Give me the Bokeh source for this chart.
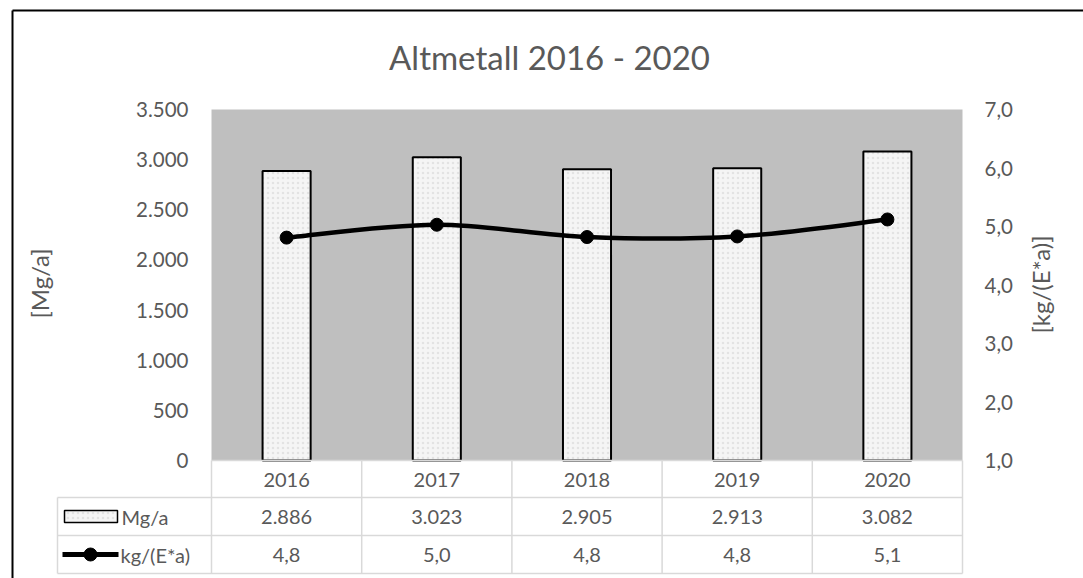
import math
from bokeh.plotting import figure
from bokeh.models import Range1d, LinearAxis, FixedTicker
from bokeh.core.properties import value
from bokeh.embed import file_html
from bokeh.resources import INLINE

# ---------------- data ----------------
YEARS = ["2016", "2017", "2018", "2019", "2020"]
MGA = [2886, 3023, 2905, 2913, 3082]          # Mg/a (bars, left axis)
KG = [4.81, 5.03, 4.82, 4.83, 5.12]           # kg/(E*a) (line, right axis)
LEFT_TICKS = [0, 500, 1000, 1500, 2000, 2500, 3000, 3500]
RIGHT_TICKS = [1, 2, 3, 4, 5, 6, 7]
TITLE = "Altmetall 2016 - 2020"
BAR_NAME = "Mg/a"
LINE_NAME = "kg/(E*a)"
LEFT_TITLE = "[Mg/a]"
RIGHT_TITLE = "[kg/(E*a)]"


def de_int(v):
    return f"{v:,}".replace(",", ".")


def de_dec(v):
    return f"{v:.1f}".replace(".", ",")


# ---------------- layout (pixel geometry) ----------------
W, H = 1083, 578
PL, PR, PT, PB = 211, 962, 109, 460          # plot area
YMAX = LEFT_TICKS[-1]
RMIN, RMAX = RIGHT_TICKS[0], RIGHT_TICKS[-1]
N = len(YEARS)
FONT = "Lato"
TXT = "#595959"
GRID = "#D9D9D9"


def xd(px):
    return -0.5 + (px - PL) / (PR - PL) * N


def yd(py):
    return (PB - py) / (PB - PT) * YMAX


def yr(py):
    return RMIN + (PB - py) / (PB - PT) * (RMAX - RMIN)


p = figure(width=W, height=H, x_range=Range1d(xd(0), xd(W)), y_range=Range1d(yd(H), yd(0)),
           output_backend="svg", toolbar_location=None,
           min_border_left=0, min_border_right=0, min_border_top=0, min_border_bottom=0,
           background_fill_color="white", border_fill_color="white", outline_line_color=None)
p.xaxis.visible = False
p.xgrid.visible = False
p.ygrid.visible = False
p.extra_y_ranges = {"right": Range1d(yr(H), yr(0))}


def style_axis(ax, standoff):
    ax.axis_line_color = None
    ax.major_tick_line_color = None
    ax.minor_tick_line_color = None
    ax.major_tick_out = 0
    ax.minor_tick_out = 0
    ax.major_label_standoff = standoff
    ax.major_label_text_font = FONT
    ax.major_label_text_font_size = "20.5px"
    ax.major_label_text_color = TXT


ya = p.yaxis[0]
ya.ticker = FixedTicker(ticks=LEFT_TICKS)
ya.major_label_overrides = {t: de_int(t) for t in LEFT_TICKS}
ya.fixed_location = xd(PL)
style_axis(ya, 23)

ra = LinearAxis(y_range_name="right", ticker=FixedTicker(ticks=RIGHT_TICKS))
ra.major_label_overrides = {t: de_dec(t) for t in RIGHT_TICKS}
ra.fixed_location = xd(PR)
style_axis(ra, 22)
p.add_layout(ra, "right")

xs = list(range(N))

# gray plot area
p.quad(left=[-0.5], right=[N - 0.5], bottom=[0], top=[YMAX], fill_color="#BFBFBF", line_color=None)

# bars
tex = dict(fill_color="#F5F5F5", hatch_pattern="dot", hatch_color="#C8C8C8", hatch_scale=5,
           hatch_weight=1.2, hatch_alpha=0.4)
p.vbar(x=xs, top=MGA, width=0.32, line_color="black", line_width=2, **tex)

# smoothed line (Excel-style Catmull-Rom bezier through the data points)
x0, y0, x1, y1, cx0, cy0, cx1, cy1 = [], [], [], [], [], [], [], []
for i in range(N - 1):
    xm, ym = xs[max(i - 1, 0)], KG[max(i - 1, 0)]
    xa, ya_ = xs[i], KG[i]
    xb, yb = xs[i + 1], KG[i + 1]
    xn, yn = xs[min(i + 2, N - 1)], KG[min(i + 2, N - 1)]
    x0.append(xa); y0.append(ya_); x1.append(xb); y1.append(yb)
    cx0.append(xa + (xb - xm) / 6); cy0.append(ya_ + (yb - ym) / 6)
    cx1.append(xb - (xn - xa) / 6); cy1.append(yb - (yn - ya_) / 6)
p.bezier(x0=x0, y0=y0, x1=x1, y1=y1, cx0=cx0, cy0=cy0, cx1=cx1, cy1=cy1,
         line_color="black", line_width=4.5, y_range_name="right")
p.scatter(xs, KG, size=13, marker="circle", fill_color="black", line_color="black", y_range_name="right")

# ---------------- table lines ----------------
ROW_Y = [460, 497, 535, 573]
LEFT_COL = 57
sx0, sy0, sx1, sy1 = [], [], [], []
sx0.append(xd(PL)); sx1.append(xd(PR)); sy0.append(yd(ROW_Y[0])); sy1.append(yd(ROW_Y[0]))
for ry in ROW_Y[1:]:
    sx0.append(xd(LEFT_COL)); sx1.append(xd(PR)); sy0.append(yd(ry)); sy1.append(yd(ry))
sx0.append(xd(LEFT_COL)); sx1.append(xd(LEFT_COL)); sy0.append(yd(ROW_Y[1])); sy1.append(yd(ROW_Y[3]))
for i in range(N + 1):
    sx0.append(i - 0.5); sx1.append(i - 0.5); sy0.append(yd(ROW_Y[0])); sy1.append(yd(ROW_Y[3]))
p.segment(x0=sx0, y0=sy0, x1=sx1, y1=sy1, line_color=GRID, line_width=1.5)

# outer chart border (left and top edges)
p.segment(x0=[xd(12), xd(12)], y0=[yd(10), yd(10)], x1=[xd(W + 5), xd(12)], y1=[yd(10), yd(H + 5)],
          line_color="black", line_width=2)


def text(ts, xsv, ysv, size="20px", align="center", angle=0.0):
    p.text(x=xsv, y=ysv, text=ts, text_font=value(FONT), text_font_size=value(size), text_color=TXT,
           text_align=align, text_baseline="middle", angle=angle)


# title and axis titles
text([TITLE], [xd(549)], [yd(56)], size="33px")
text([LEFT_TITLE], [xd(39)], [yd(283)], size="24px", angle=math.pi / 2)
text([RIGHT_TITLE], [xd(1040)], [yd(284)], size="24px", angle=math.pi / 2)

# table contents
r0 = (ROW_Y[0] + ROW_Y[1]) / 2 + 1
r1 = (ROW_Y[1] + ROW_Y[2]) / 2
r2 = (ROW_Y[2] + ROW_Y[3]) / 2
text(YEARS, xs, [yd(r0)] * N)
text([de_int(v) for v in MGA], xs, [yd(r1)] * N)
text([de_dec(v) for v in KG], xs, [yd(r2)] * N)

# legend keys in the table
p.quad(left=[xd(64)], right=[xd(117)], bottom=[yd(r1 + 6)], top=[yd(r1 - 6)],
       line_color="black", line_width=1.5, **tex)
p.segment(x0=[xd(62)], y0=[yd(r2)], x1=[xd(118)], y1=[yd(r2)], line_color="black", line_width=5)
p.scatter([xd(90)], [yd(r2)], size=13, marker="circle", fill_color="black", line_color="black")
text([BAR_NAME], [xd(121)], [yd(r1)], align="left")
text([LINE_NAME], [xd(120)], [yd(r2)], align="left")

open("out.html", "w").write(file_html(p, INLINE))
